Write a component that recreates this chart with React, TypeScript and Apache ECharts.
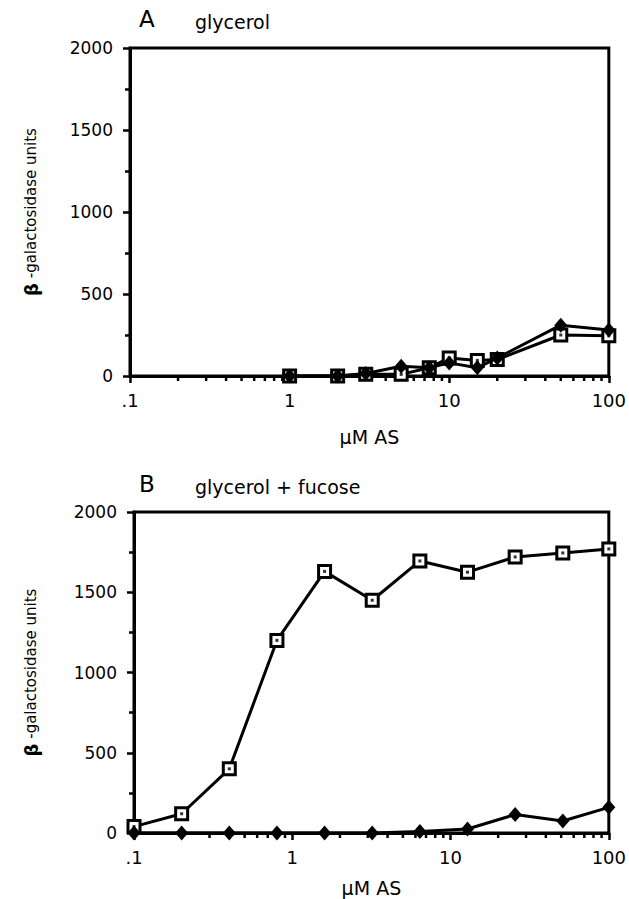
import React, { useEffect, useRef } from "react";
import * as echarts from "echarts";

// Panel A: glycerol
const concA = [1, 2, 3, 5, 7.5, 10, 15, 20, 50, 100];
const squaresA = [0, 0, 10, 10, 50, 110, 95, 100, 250, 245];
const diamondsA = [0, 0, 15, 60, 50, 80, 50, 110, 310, 280];

// Panel B: glycerol + fucose
const concB = [0.1, 0.2, 0.4, 0.8, 1.6, 3.2, 6.4, 12.8, 25.6, 51.2, 100];
const squaresB = [40, 120, 400, 1200, 1630, 1450, 1695, 1625, 1720, 1745, 1770];
const diamondsB = [0, 0, 0, 0, 0, 0, 10, 25, 115, 75, 160];

const xMinorTicks = [0.2, 0.3, 0.4, 0.5, 0.6, 0.7, 0.8, 0.9, 2, 3, 4, 5, 6, 7, 8, 9, 20, 30, 40, 50, 60, 70, 80, 90];
const xTickLabels: Record<string, string> = { "0.1": ".1", "1": "1", "10": "10", "100": "100" };

const panelTitles = ["A", "B"];
const panelSubtitles = ["glycerol", "glycerol + fucose"];
const yTitle = "{b|β}{t| -galactosidase units}";
const xTitle = "µM AS";

const FONT = "DejaVu Sans";

function pairs(xs: number[], ys: number[]) {
  return xs.map((x, i) => [x, ys[i]]);
}

export default function App() {
  const ref = useRef<HTMLDivElement>(null);
  useEffect(() => {
    document.body.style.margin = "0";
    const chart = echarts.init(ref.current!, null, { renderer: "svg" });
    const grids = [
      { left: 130, width: 479, top: 48, height: 328 },
      { left: 134, width: 475, top: 512, height: 321 },
    ];
    const nameGaps = [51, 45];
    const xAxes = grids.map((_, i) => ({
      type: "log",
      logBase: 10,
      gridIndex: i,
      min: 0.1,
      max: 100,
      name: xTitle,
      nameLocation: "middle",
      nameGap: nameGaps[i],
      nameTextStyle: { fontFamily: FONT, fontSize: 19, color: "#000" },
      axisLine: { show: true, onZero: false, lineStyle: { color: "#000", width: 3 } },
      axisTick: { show: true, length: 7, lineStyle: { color: "#000", width: 2.5 } },
      axisLabel: {
        margin: 15,
        fontFamily: FONT,
        fontSize: 18,
        color: "#000",
        formatter: (v: number) => {
          const k = v < 0.5 ? "0.1" : String(Math.round(v));
          return xTickLabels[k] ?? k;
        },
      },
      splitLine: { show: false },
      minorTick: { show: false },
    }));
    const yAxes = grids.map((_, i) => ({
      type: "value",
      gridIndex: i,
      min: 0,
      max: 2000,
      interval: 500,
      axisLine: { show: true, lineStyle: { color: "#000", width: 3 } },
      axisTick: { show: true, length: 7, lineStyle: { color: "#000", width: 2.5 } },
      minorTick: { show: true, splitNumber: 2, length: 5, lineStyle: { color: "#000", width: 2.5 } },
      axisLabel: { margin: 17, fontFamily: FONT, fontSize: 17, color: "#000", formatter: (v: number) => String(v) },
      splitLine: { show: false },
      minorSplitLine: { show: false },
    }));

    const squareSeries = (i: number, data: number[][]) => [
      {
        type: "line",
        xAxisIndex: i,
        yAxisIndex: i,
        data,
        symbol: "rect",
        symbolSize: 12,
        showAllSymbol: true,
        lineStyle: { color: "#000", width: 3 },
        itemStyle: { color: "#fff", borderColor: "#000", borderWidth: 3 },
        z: 2,
        emphasis: { disabled: true },
      },
      {
        type: "scatter",
        xAxisIndex: i,
        yAxisIndex: i,
        data,
        symbol: "rect",
        symbolSize: 3,
        itemStyle: { color: "#000" },
        z: 3,
        emphasis: { disabled: true },
      },
    ];
    const diamondSeries = (i: number, data: number[][]) => ({
      type: "line",
      xAxisIndex: i,
      yAxisIndex: i,
      data,
      symbol: "diamond",
      symbolSize: [13, 15],
      showAllSymbol: true,
      lineStyle: { color: "#000", width: 3 },
      itemStyle: { color: "#000" },
      z: 4,
      emphasis: { disabled: true },
    });
    const minorTickSeries = (i: number) => ({
      type: "custom",
      xAxisIndex: i,
      yAxisIndex: i,
      data: xMinorTicks.map((v) => [v, 0]),
      silent: true,
      clip: false,
      z: 1,
      renderItem: (_p: any, api: any) => {
        const p = api.coord([api.value(0), 0]);
        return {
          type: "line",
          shape: { x1: p[0], y1: p[1], x2: p[0], y2: p[1] + 5 },
          style: { stroke: "#000", lineWidth: 2.5 },
        };
      },
    });

    const titleBaselines = [30, 495];
    const graphics: any[] = [];
    grids.forEach((g, i) => {
      graphics.push({
        type: "text",
        x: 139,
        y: titleBaselines[i],
        style: { text: panelTitles[i], fontFamily: FONT, fontSize: 23, fill: "#000", textAlign: "left", textVerticalAlign: "bottom" },
      });
      graphics.push({
        type: "text",
        x: 195,
        y: titleBaselines[i] + 1,
        style: { text: panelSubtitles[i], fontFamily: FONT, fontSize: 19, fill: "#000", textAlign: "left", textVerticalAlign: "bottom" },
      });
      graphics.push({
        type: "text",
        x: 31,
        y: g.top + g.height / 2,
        rotation: Math.PI / 2,
        style: {
          text: yTitle,
          fontFamily: FONT,
          fontSize: 15,
          fill: "#000",
          textAlign: "center",
          textVerticalAlign: "middle",
          rich: {
            b: { fontFamily: FONT, fontWeight: "bold", fontSize: 18, fill: "#000" },
            t: { fontFamily: FONT, fontSize: 15, fill: "#000" },
          },
        },
      });
    });

    chart.setOption({
      animation: false,
      backgroundColor: "#fff",
      grid: grids.map((g) => ({ ...g, show: true, borderColor: "#000", borderWidth: 3, backgroundColor: "transparent" })),
      xAxis: xAxes,
      yAxis: yAxes,
      series: [
        minorTickSeries(0),
        minorTickSeries(1),
        ...squareSeries(0, pairs(concA, squaresA)),
        diamondSeries(0, pairs(concA, diamondsA)),
        ...squareSeries(1, pairs(concB, squaresB)),
        diamondSeries(1, pairs(concB, diamondsB)),
      ],
      graphic: graphics,
    });
    return () => chart.dispose();
  }, []);
  return <div ref={ref} style={{ width: 629, height: 899 }} />;
}
